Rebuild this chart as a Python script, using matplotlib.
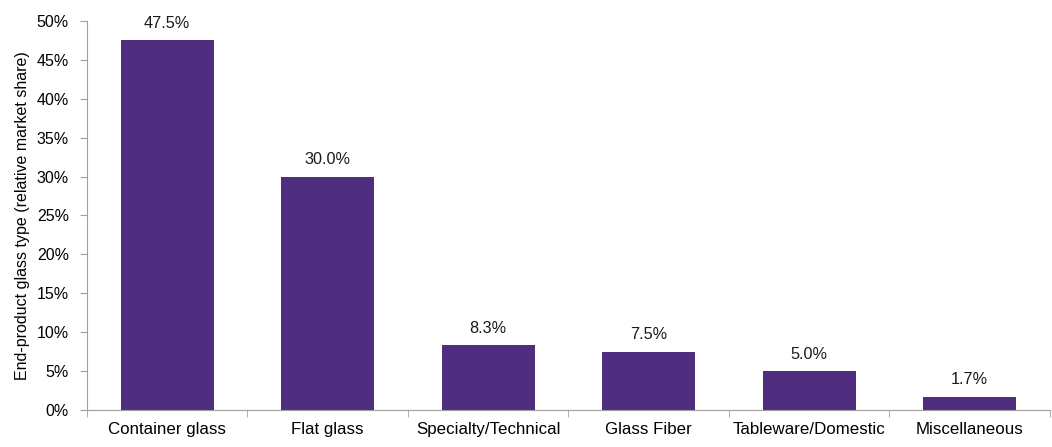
import numpy as np
import matplotlib.pyplot as plt

categories = ['Container glass', 'Flat glass', 'Specialty/Technical',
              'Glass Fiber', 'Tableware/Domestic', 'Miscellaneous']
shares = [47.5, 30.0, 8.3, 7.5, 5.0, 1.7]
yTicks = [0, 5, 10, 15, 20, 25, 30, 35, 40, 45, 50]

plt.rcParams['font.family'] = ['Liberation Sans', 'DejaVu Sans']

fig = plt.figure(figsize=(10.52, 4.47), dpi=100)
ax = fig.add_axes([0.0827, 0.0828, 0.9153, 0.8702])

x = np.arange(len(categories))
bars = ax.bar(x, shares, width=0.58, color='#4F2D7F')

for xi, val in zip(x, shares):
    ax.text(xi, val + 1.2, f'{val:.1f}%', ha='center', va='bottom', fontsize=11.7, color='#1a1a1a')

ax.set_xlim(-0.5, len(categories) - 0.5)
ax.set_ylim(0, 50)
ax.set_yticks(yTicks)
ax.set_yticklabels([f'{t}%' for t in yTicks], fontsize=11.5)
ax.set_xticks(x)
ax.set_xticklabels(categories, fontsize=12.2)
ax.tick_params(axis='x', which='major', length=0, pad=9)
ax.set_xticks(np.arange(-0.5, len(categories), 1.0), minor=True)
ax.tick_params(axis='x', which='minor', length=5, color='#A0A0A0', direction='out')
ax.tick_params(axis='y', length=5, color='#A0A0A0', direction='out', pad=8)
ax.set_ylabel('End-product glass type (relative market share)', fontsize=11.5, labelpad=5)

for side in ['top', 'right']:
    ax.spines[side].set_visible(False)
for side in ['left', 'bottom']:
    ax.spines[side].set_color('#A0A0A0')

plt.savefig('out.png', dpi=100)
plt.close()
